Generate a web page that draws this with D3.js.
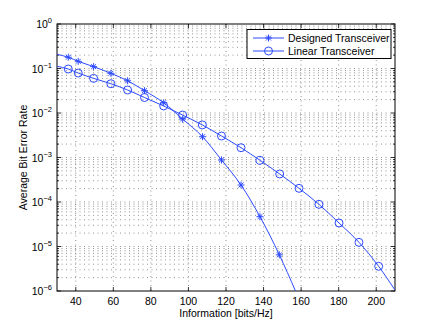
<!DOCTYPE html>
<html>
<head>
<meta charset="utf-8">
<script src="https://cdn.jsdelivr.net/npm/d3@7"></script>
<style>
  body { margin: 0; background: #fff; }
  text { font-family: "Liberation Sans", Arial, sans-serif; }
</style>
</head>
<body>
<svg id="chart" width="436" height="328"></svg>
<script>
// values
const xTicks = [40, 60, 80, 100, 120, 140, 160, 180, 200];
const yDecades = [0, -1, -2, -3, -4, -5, -6];

const designedX = [30, 36, 41.3, 49.5, 58.7, 67.6, 76.6, 86.8, 96.9, 107.5, 117.6, 128, 138.1, 148.4, 157];
const designedBER = [0.208, 0.179, 0.145, 0.110, 0.078, 0.053, 0.0317, 0.0170, 0.0073, 0.00293, 0.00088, 0.000241, 4.68e-5, 6.5e-6, 1e-6];
// which of the points above carry a marker
const designedMarked = [false, true, true, true, true, true, true, true, true, true, true, true, true, true, false];

const linearX = [30, 36, 41.3, 49.5, 58.7, 67.6, 76.6, 86.8, 96.9, 107.4, 117.6, 128, 138.1, 148.6, 158.9, 169.5, 180.2, 190.8, 201.3, 210];
const linearBER = [0.112, 0.0975, 0.079, 0.060, 0.0455, 0.0329, 0.0223, 0.0144, 0.0090, 0.0054, 0.00304, 0.00166, 0.000865, 0.000426, 0.000203, 8.87e-5, 3.37e-5, 1.24e-5, 3.59e-6, 1.05e-6];
const linearMarked = [false, true, true, true, true, true, true, true, true, true, true, true, true, true, true, true, true, true, true, false];

const legendLabels = ['Designed Transceiver', 'Linear Transceiver'];

const BLUE = '#2d4bff';

let margin = {top: 24, right: 41, bottom: 37, left: 57},
    width = 436 - margin.left - margin.right,
    height = 328 - margin.top - margin.bottom;

let svg = d3.select('#chart');
let g = svg.append('g').attr('transform', `translate(${margin.left},${margin.top})`);

let x = d3.scaleLinear().domain([30, 210]).range([0, width]);
let y = d3.scaleLog().domain([1e-6, 1]).range([height, 0]);

// minor log values 2..9 in every decade
let minorY = [];
for (let e = -6; e < 0; e++) {
    for (let m = 2; m <= 9; m++) minorY.push(m * Math.pow(10, e));
}
let majorY = yDecades.map(e => Math.pow(10, e));

// grid
let grid = g.append('g')
    .attr('stroke', '#666')
    .attr('stroke-width', 0.7)
    .attr('stroke-dasharray', '1,3.5');
grid.selectAll('.gx').data(xTicks).join('line')
    .attr('x1', d => x(d)).attr('x2', d => x(d))
    .attr('y1', 0).attr('y2', height);
grid.selectAll('.gy').data(minorY.concat(majorY.slice(1, -1))).join('line')
    .attr('x1', 0).attr('x2', width)
    .attr('y1', d => y(d)).attr('y2', d => y(d));

// ticks on all sides, pointing in
let ticks = g.append('g').attr('stroke', '#000').attr('stroke-width', 0.8);
xTicks.forEach(v => {
    ticks.append('line').attr('x1', x(v)).attr('x2', x(v)).attr('y1', height).attr('y2', height - 4);
    ticks.append('line').attr('x1', x(v)).attr('x2', x(v)).attr('y1', 0).attr('y2', 4);
});
majorY.forEach(v => {
    ticks.append('line').attr('x1', 0).attr('x2', 4).attr('y1', y(v)).attr('y2', y(v));
    ticks.append('line').attr('x1', width).attr('x2', width - 4).attr('y1', y(v)).attr('y2', y(v));
});
minorY.forEach(v => {
    ticks.append('line').attr('x1', 0).attr('x2', 2).attr('y1', y(v)).attr('y2', y(v));
    ticks.append('line').attr('x1', width).attr('x2', width - 2).attr('y1', y(v)).attr('y2', y(v));
});

// box
g.append('rect').attr('width', width).attr('height', height)
    .attr('fill', 'none').attr('stroke', '#000').attr('stroke-width', 1);

// x tick labels
g.append('g').selectAll('text').data(xTicks).join('text')
    .attr('x', d => x(d)).attr('y', height + 14)
    .attr('text-anchor', 'middle')
    .attr('font-size', 10.5)
    .text(d => d);

// y tick labels 10^e
let yl = g.append('g').selectAll('text').data(yDecades).join('text')
    .attr('x', -5).attr('y', d => y(Math.pow(10, d)) + 4)
    .attr('text-anchor', 'end')
    .attr('font-size', 10.5);
yl.append('tspan').text('10');
yl.append('tspan').attr('dy', -5).attr('font-size', 7.5).text(d => d === 0 ? '0' : '\u2212' + (-d));

// axis labels
svg.append('text')
    .attr('x', margin.left + width / 2).attr('y', 317)
    .attr('text-anchor', 'middle').attr('font-size', 10.5)
    .text('Information [bits/Hz]');
svg.append('text')
    .attr('transform', `translate(27,${margin.top + height / 2}) rotate(-90)`)
    .attr('text-anchor', 'middle').attr('font-size', 10.5)
    .text('Average Bit Error Rate');

// series
let line = d3.line().x(d => x(d[0])).y(d => y(d[1])).curve(d3.curveMonotoneX);
let plot = g.append('g');

let designed = designedX.map((v, i) => [v, designedBER[i]]);
let linear = linearX.map((v, i) => [v, linearBER[i]]);

[designed, linear].forEach(s => {
    plot.append('path').datum(s)
        .attr('fill', 'none').attr('stroke', BLUE).attr('stroke-width', 1)
        .attr('d', line);
});

function drawStar(sel, cx, cy, r) {
    let p = `M${cx - r},${cy}L${cx + r},${cy}M${cx},${cy - r}L${cx},${cy + r}` +
        `M${cx - r * 0.7},${cy - r * 0.7}L${cx + r * 0.7},${cy + r * 0.7}` +
        `M${cx - r * 0.7},${cy + r * 0.7}L${cx + r * 0.7},${cy - r * 0.7}`;
    sel.append('path').attr('d', p).attr('stroke', BLUE).attr('stroke-width', 1).attr('fill', 'none');
}
function drawCircle(sel, cx, cy, r) {
    sel.append('circle').attr('cx', cx).attr('cy', cy).attr('r', r)
        .attr('fill', 'none').attr('stroke', BLUE).attr('stroke-width', 1);
}

designed.forEach((d, i) => {
    if (designedMarked[i]) drawStar(plot, x(d[0]), y(d[1]), 3.5);
});
linear.forEach((d, i) => {
    if (linearMarked[i]) drawCircle(plot, x(d[0]), y(d[1]), 4);
});

// legend
let lg = svg.append('g').attr('transform', 'translate(247,29.5)');
lg.append('rect').attr('width', 144).attr('height', 29)
    .attr('fill', '#fff').attr('stroke', '#000').attr('stroke-width', 1);
legendLabels.forEach((lbl, i) => {
    let ly = 8.5 + i * 13;
    lg.append('line').attr('x1', 6).attr('x2', 37).attr('y1', ly).attr('y2', ly)
        .attr('stroke', BLUE).attr('stroke-width', 1);
    if (i === 0) drawStar(lg, 21.5, ly, 3.5); else drawCircle(lg, 21.5, ly, 4);
    lg.append('text').attr('x', 41).attr('y', ly + 4)
        .attr('font-size', 10.5).text(lbl);
});
</script>
</body>
</html>
